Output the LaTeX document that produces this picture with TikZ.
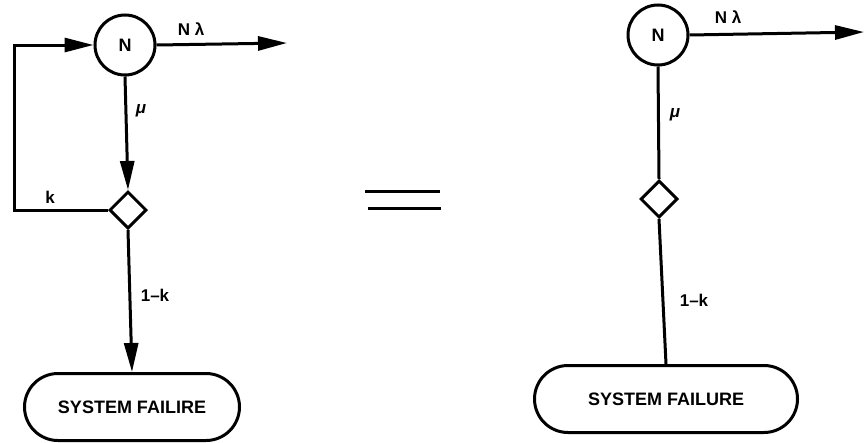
\documentclass[tikz,border=0pt]{standalone}
\usepackage{fontspec}
\setmainfont{Liberation Sans}
\usetikzlibrary{arrows.meta, shapes.geometric, shapes.misc}
\tikzset{
  every picture/.style={font=\bfseries\fontsize{18}{18}\selectfont, line width=3pt},
  state/.style={draw, circle, minimum size=60pt, inner sep=0pt},
  branch/.style={draw, diamond, minimum width=37pt, minimum height=37pt, inner sep=0pt},
  sink/.style={draw, rounded rectangle, minimum height=67pt, inner sep=0pt},
  flow/.style={-{Triangle[length=29pt, width=14pt]}},
  lbl/.style={font=\bfseries\fontsize{17}{17}\selectfont},
}

\begin{document}
\begin{tikzpicture}[x=1pt, y=-1pt]
  \useasboundingbox (0,0) rectangle (864,442);
  % left: repair loop
  \node[state] (nl) at (125,45) {N};
  \node[branch] (dl) at (128,210) {};
  \node[sink, minimum width=215pt] (fl) at (132,407) {SYSTEM FAILIRE};
  \coordinate (outl) at (287,43);
  \coordinate (fb) at (14,45);
  \draw[flow] (nl.east) -- (outl);
  \draw[flow] (nl.south) -- (dl.north);
  \draw[flow] (dl.west) -| (fb) -- (nl.west);
  \draw[flow] (dl.south) -- (fl.north);
  \node[lbl] at (191,29) {N λ};
  \node[lbl] at (141,111) {\itshape μ};
  \node[lbl] at (50,197) {k};
  \node[lbl] at (155,295) {1–k};
  % equals sign
  \draw (365,191) -- (440,191);
  \draw (368,208) -- (441,208);
  % right: equivalent chain
  \node[state] (nr) at (658,35) {N};
  \node[branch] (dr) at (659,199) {};
  \node[sink, minimum width=263pt] (fr) at (666,399) {SYSTEM FAILURE};
  \coordinate (outr) at (864,32);
  \draw[flow] (nr.east) -- (outr);
  \draw (nr.south) -- (dr.north);
  \draw (dr.south) -- (fr.north);
  \node[lbl] at (728,17) {N λ};
  \node[lbl] at (675,115) {\itshape μ};
  \node[lbl] at (694,300) {1–k};
\end{tikzpicture}
\end{document}
